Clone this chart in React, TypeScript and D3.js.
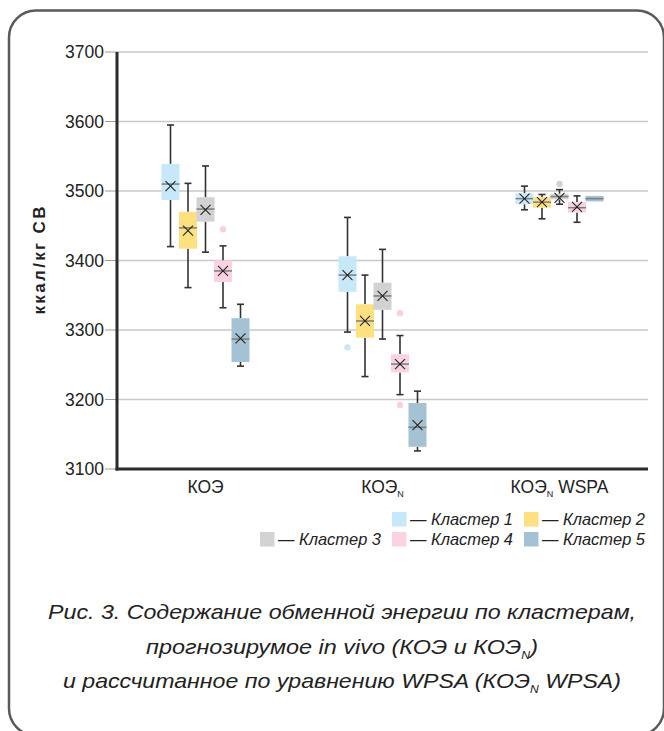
import React from "react";
import * as d3 from "d3";

const groups = ["КОЭ", "КОЭ_N", "КОЭ_N WSPA"];
const clusters = ["Кластер 1", "Кластер 2", "Кластер 3", "Кластер 4", "Кластер 5"];
const colors = ["#c6e8f8", "#fde07f", "#d1d2d4", "#f9d3e4", "#a4c2d3"];
const outlierColors = ["#c6e8f8", "#fde07f", "#d1d2d4", "#f8cfe1", "#a4c2d3"];
const yTicks = [3100, 3200, 3300, 3400, 3500, 3600, 3700];

// [cluster][group]
const lowWhisker = [
  [3420, 3297, 3473],
  [3361, 3233, 3460],
  [3412, 3287, 3481],
  [3332, 3207, 3455],
  [3248, 3126, 3485],
];
const q1 = [
  [3487, 3355, 3481],
  [3417, 3289, 3476],
  [3456, 3329, 3488],
  [3369, 3239, 3469],
  [3254, 3132, 3485],
];
const median = [
  [3510, 3379, 3489],
  [3447, 3313, 3484],
  [3474, 3349, 3492],
  [3385, 3251, 3476],
  [3287, 3160, 3489],
];
const q3 = [
  [3539, 3406, 3497],
  [3470, 3337, 3491],
  [3491, 3368, 3496],
  [3400, 3265, 3484],
  [3317, 3195, 3493],
];
const highWhisker = [
  [3595, 3462, 3507],
  [3511, 3379, 3495],
  [3536, 3416, 3502],
  [3421, 3292, 3493],
  [3337, 3212, 3493],
];
const mean: (number | null)[][] = [
  [3507, 3379, 3489],
  [3443, 3313, 3484],
  [3473, 3349, 3490],
  [3385, 3251, 3477],
  [3288, 3163, null],
];
const outliers: number[][][] = [
  [[], [3275], []],
  [[], [], []],
  [[], [], [3510]],
  [[3445], [3324, 3192], []],
  [[], [], []],
];

const captionLines = [
  "Рис. 3. Содержание обменной энергии по кластерам,",
  "прогнозирумое in vivo (КОЭ и КОЭ_N)",
  "и рассчитанное по уравнению WPSA (КОЭ_N WPSA)",
];
const yTitle = "ккал/кг СВ";

const W = 664;
const H = 731;
const plotLeft = 117;
const plotRight = 648;
const plotTop = 52;
const plotBottom = 469;

function withSub(label: string, subSize: number, shift: number) {
  const parts = label.split("_N");
  const out: React.ReactNode[] = [];
  parts.forEach((p, i) => {
    if (i > 0) {
      out.push(
        <tspan key={"s" + i} fontSize={subSize} dy={shift}>
          N
        </tspan>
      );
      out.push(
        <tspan key={"p" + i} dy={-shift}>
          {p}
        </tspan>
      );
    } else {
      out.push(<tspan key={"p" + i}>{p}</tspan>);
    }
  });
  return out;
}

export default function App() {
  const y = d3.scaleLinear().domain([3100, 3700]).range([plotBottom, plotTop]);
  const x = d3.scaleBand<string>().domain(groups).range([plotLeft, plotRight]).padding(0);
  const clusterSpan = 87.5;
  const xc = d3
    .scaleBand<string>()
    .domain(clusters)
    .range([-clusterSpan / 2, clusterSpan / 2])
    .padding(0);
  const boxW = 18;
  const capW = 7;

  const legendRows = [
    { items: [0, 1], y: 512 },
    { items: [2, 3, 4], y: 532 },
  ];
  const legendRight = 524;
  const legendStep = 132;

  return (
    <svg
      width={W}
      height={H}
      style={{ position: "absolute", left: 0, top: 0, background: "#fff" }}
      fontFamily="'Liberation Sans', Arial, sans-serif"
    >
      <rect x={9} y={10.5} width={655} height={725} rx={27} fill="none" stroke="#5a5a5a" strokeWidth={2.5} />

      {/* gridlines & ticks */}
      {yTicks.map((t) => (
        <g key={t}>
          {t > 3100 && (
            <line x1={plotLeft} x2={plotRight} y1={y(t)} y2={y(t)} stroke="#c9c9c9" strokeWidth={1.5} />
          )}
          <line x1={105} x2={plotLeft} y1={y(t)} y2={y(t)} stroke="#9a9a9a" strokeWidth={1} />
          <text x={104} y={y(t)} dy="0.36em" textAnchor="end" fontSize={17.5} fill="#222">
            {t}
          </text>
        </g>
      ))}

      {/* y title */}
      <text
        transform={`translate(45,${(plotTop + plotBottom) / 2}) rotate(-90)`}
        textAnchor="middle"
        fontSize={17}
        fontWeight="bold"
        fill="#222"
        textLength={108}
        lengthAdjust="spacing"
      >
        {yTitle}
      </text>

      {/* boxes */}
      {clusters.map((c, ci) =>
        groups.map((g, gi) => {
          const cx = (x(g) as number) + x.bandwidth() / 2 + (xc(c) as number) + xc.bandwidth() / 2;
          const lo = lowWhisker[ci][gi];
          const hi = highWhisker[ci][gi];
          const b1 = q1[ci][gi];
          const b3 = q3[ci][gi];
          const md = median[ci][gi];
          const mn = mean[ci][gi];
          return (
            <g key={c + g}>
              {hi > b3 && (
                <g stroke="#333" strokeWidth={1.6}>
                  <line x1={cx} x2={cx} y1={y(hi)} y2={y(b3)} />
                  <line x1={cx - capW / 2} x2={cx + capW / 2} y1={y(hi)} y2={y(hi)} />
                </g>
              )}
              {lo < b1 && (
                <g stroke="#333" strokeWidth={1.6}>
                  <line x1={cx} x2={cx} y1={y(b1)} y2={y(lo)} />
                  <line x1={cx - capW / 2} x2={cx + capW / 2} y1={y(lo)} y2={y(lo)} />
                </g>
              )}
              <rect
                x={cx - boxW / 2}
                y={y(b3)}
                width={boxW}
                height={Math.max(1, y(b1) - y(b3))}
                fill={colors[ci]}
              />
              <line
                x1={cx - boxW / 2}
                x2={cx + boxW / 2}
                y1={y(md)}
                y2={y(md)}
                stroke="#7d7d7d"
                strokeWidth={1.5}
              />
              {mn !== null && (
                <g stroke="#222" strokeWidth={1.1}>
                  <line x1={cx - 5} x2={cx + 5} y1={y(mn) - 5} y2={y(mn) + 5} />
                  <line x1={cx - 5} x2={cx + 5} y1={y(mn) + 5} y2={y(mn) - 5} />
                </g>
              )}
              {outliers[ci][gi].map((o, oi) => (
                <circle key={oi} cx={cx} cy={y(o)} r={3.2} fill={outlierColors[ci]} />
              ))}
            </g>
          );
        })
      )}

      {/* axes */}
      <line x1={plotLeft} x2={plotLeft} y1={plotTop} y2={plotBottom + 1.5} stroke="#2b2b2b" strokeWidth={3} />
      <line x1={plotLeft - 1.5} x2={plotRight} y1={plotBottom} y2={plotBottom} stroke="#2b2b2b" strokeWidth={3} />

      {/* x labels */}
      {groups.map((g) => (
        <text
          key={g}
          x={(x(g) as number) + x.bandwidth() / 2}
          y={493}
          textAnchor="middle"
          fontSize={17.5}
          fill="#222"
        >
          {withSub(g, 9, 4)}
        </text>
      ))}

      {/* legend */}
      {legendRows.map((row) =>
        row.items.map((ci, k) => {
          const n = row.items.length;
          const sx = legendRight - (n - 1 - k) * legendStep;
          return (
            <g key={ci}>
              <rect x={sx} y={row.y} width={14.5} height={14.5} fill={colors[ci]} />
              <text
                x={sx + 18}
                y={row.y + 13}
                fontSize={17}
                fontStyle="italic"
                fill="#222"
                textLength={103}
                lengthAdjust="spacingAndGlyphs"
              >
                {"— " + clusters[ci]}
              </text>
            </g>
          );
        })
      )}

      {/* caption */}
      {captionLines.map((l, i) => {
        const lens = [588, 392, 558];
        return (
          <text
            key={i}
            x={342}
            y={619 + i * 34.5}
            textAnchor="middle"
            fontSize={21}
            fontStyle="italic"
            fill="#222"
            textLength={lens[i]}
            lengthAdjust="spacingAndGlyphs"
          >
            {withSub(l, 11, 5)}
          </text>
        );
      })}
    </svg>
  );
}
